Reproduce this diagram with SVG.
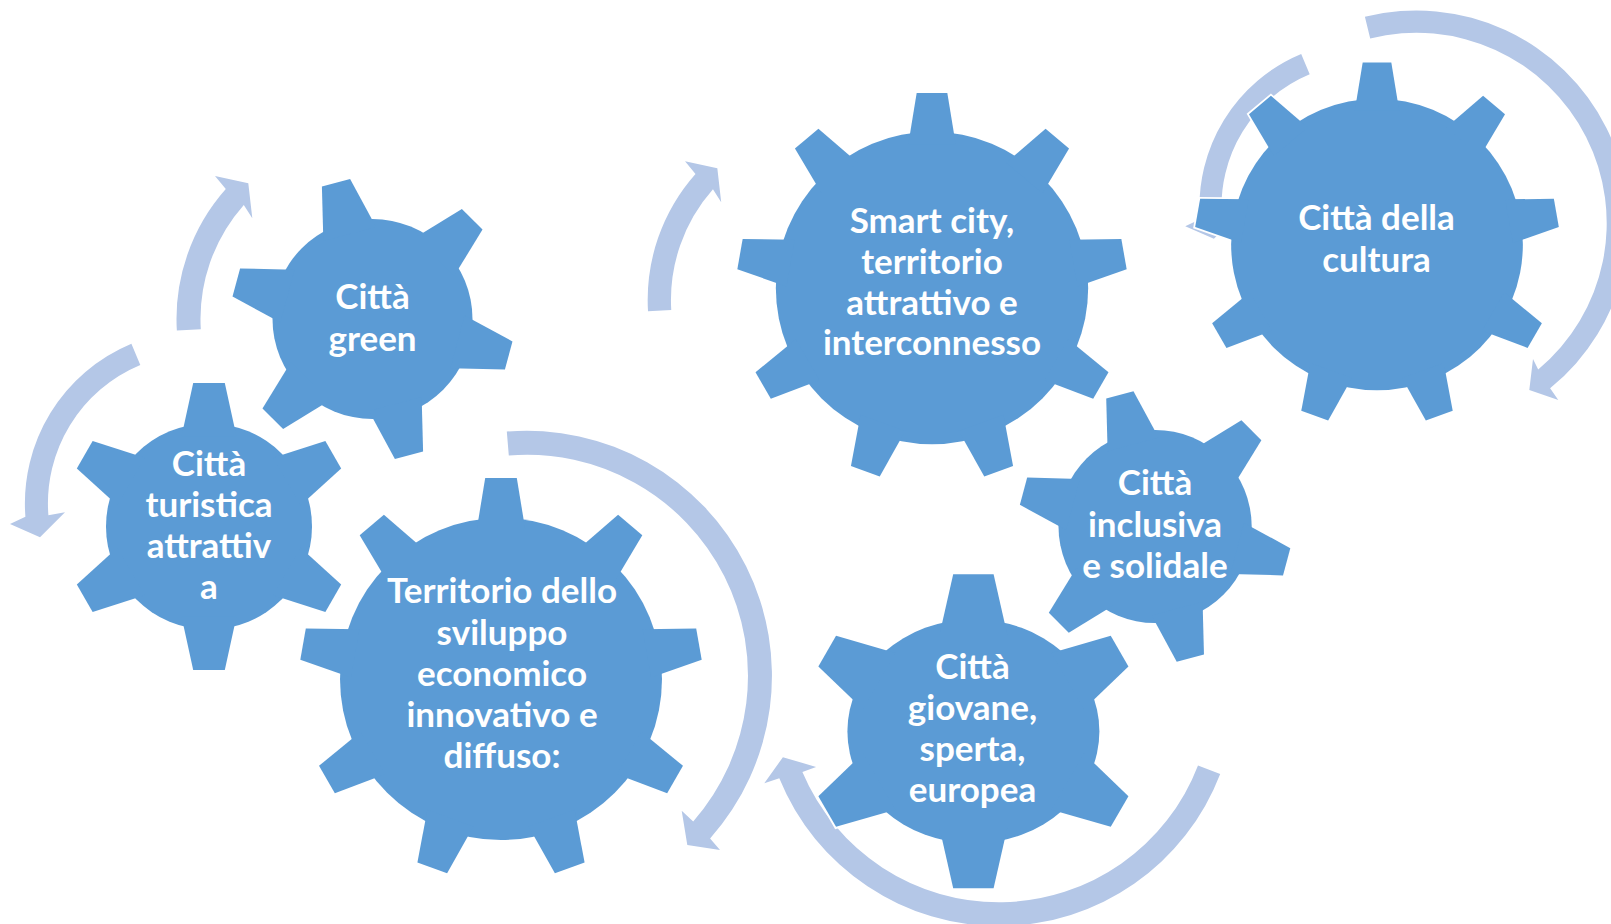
<svg xmlns="http://www.w3.org/2000/svg" xmlns:xlink="http://www.w3.org/1999/xlink" width="1611" height="924" viewBox="0 0 1611 924">
<style>
.arrow{fill:#B4C7E7}
.go{fill:#ffffff;stroke:#ffffff;stroke-width:4}
.gf{fill:#5B9BD5;stroke:none}
.lbl{font-family:Lato,"Liberation Sans",sans-serif;font-weight:bold;font-size:35px;fill:#ffffff;text-anchor:middle}
</style>
<defs>
  <polygon id="t1" points="-15.8,-143.5 15.8,-143.5 27.5,-90 -27.5,-90"/>
  <polygon id="t2" points="-14.6,-141 14.6,-141 27.3,-88 -27.3,-88"/>
  <polygon id="t3" points="-15.8,-201 15.8,-201 24.5,-148 -24.5,-148"/>
  <polygon id="t7v" points="-20.2,0 20.2,0 33.8,60 -33.8,60"/>
  <polygon id="t7s" points="-17.7,0 17.7,0 32.5,60 -32.5,60"/>
  <g id="gear1">
    <circle r="103"/>
    <use xlink:href="#t1"/>
    <use xlink:href="#t1" transform="rotate(60)"/>
    <use xlink:href="#t1" transform="rotate(120)"/>
    <use xlink:href="#t1" transform="rotate(180)"/>
    <use xlink:href="#t1" transform="rotate(240)"/>
    <use xlink:href="#t1" transform="rotate(300)"/>
  </g>
  <g id="gear2">
    <circle r="100"/>
    <use xlink:href="#t2" transform="rotate(-15)"/>
    <use xlink:href="#t2" transform="rotate(45)"/>
    <use xlink:href="#t2" transform="rotate(105)"/>
    <use xlink:href="#t2" transform="rotate(165)"/>
    <use xlink:href="#t2" transform="rotate(225)"/>
    <use xlink:href="#t2" transform="rotate(285)"/>
  </g>
  <g id="gear3">
    <circle r="161"/>
    <use xlink:href="#t3"/>
    <use xlink:href="#t3" transform="rotate(40)"/>
    <use xlink:href="#t3" transform="rotate(80)"/>
    <use xlink:href="#t3" transform="rotate(120)"/>
    <use xlink:href="#t3" transform="rotate(160)"/>
    <use xlink:href="#t3" transform="rotate(200)"/>
    <use xlink:href="#t3" transform="rotate(240)"/>
    <use xlink:href="#t3" transform="rotate(280)"/>
    <use xlink:href="#t3" transform="rotate(320)"/>
  </g>
  <g id="gear7">
    <ellipse rx="126" ry="112"/>
    <use xlink:href="#t7v" transform="translate(0,-157)"/>
    <use xlink:href="#t7s" transform="translate(146.2,-80.2) rotate(60)"/>
    <use xlink:href="#t7s" transform="translate(146.2,80.2) rotate(120)"/>
    <use xlink:href="#t7v" transform="translate(0,157) rotate(180)"/>
    <use xlink:href="#t7s" transform="translate(-146.2,80.2) rotate(240)"/>
    <use xlink:href="#t7s" transform="translate(-146.2,-80.2) rotate(300)"/>
  </g>
  <path id="arrA" d="M -195.65,11.62 A196,196 0 0,1 -146.7,-130 L -157.5,-143 L -124.2,-135.7 L -120.2,-100.7 L -128.7,-114.1 A172,172 0 0,0 -171.7,10.2 Z"/>
  <path id="arrB" d="M -66.5,-159.7 A173,173 0 0,0 -172.5,13.3 L -187.9,20.6 L -157.9,33.9 L -132.9,8.9 L -149.5,11.8 A150,150 0 0,1 -57.6,-138.5 Z"/>
</defs>
<rect width="1611" height="924" fill="#ffffff"/>
<g id="connectors">
  <use xlink:href="#arrA" class="arrow" transform="translate(372.5,319)"/>
  <use xlink:href="#arrA" class="arrow" transform="translate(837.8,300) scale(0.97)"/>
  <use xlink:href="#arrB" class="arrow" transform="translate(197.9,503.4)"/>
  <use xlink:href="#arrB" class="arrow" transform="translate(1364.7,206.5) scale(0.955)"/>
  <path class="arrow" transform="translate(526.9,675.8)" d="M -20.1,-244.2 A245,245 0 0,1 183.2,162.7 L 193.1,174.2 L 160.4,169.2 L 154.8,134.9 L 166.3,145.6 A221,221 0 0,0 -18.1,-220.3 Z"/>
  <path class="arrow" transform="translate(998.9,689)" d="M 221.3,84.9 A237,237 0 0,1 -219.6,89.2 L -234.6,94.2 L -216,68.2 L -182.8,77.9 L -196.5,83 A213.3,213.3 0 0,0 199.1,76.4 Z"/>
  <path class="arrow" transform="translate(1416.3,223.1)" d="M -51.4,-206.3 A212.6,212.6 0 0,1 133.8,165.2 L 142,176.9 L 113,166.9 L 116.7,135.9 L 121.9,146.3 A190.4,190.4 0 0,0 -46.1,-184.7 Z"/>
</g>
<g id="node-turistica">
  <g transform="translate(209,526.5)"><use xlink:href="#gear1" class="go"/><use xlink:href="#gear1" class="gf"/></g>
  <text class="lbl"><tspan x="209" y="476">Città</tspan><tspan x="209" y="517">turistica</tspan><tspan x="209" y="558">attrattiv</tspan><tspan x="209" y="599">a</tspan></text>
</g>
<g id="node-green">
  <g transform="translate(372.5,319)"><use xlink:href="#gear2" class="go"/><use xlink:href="#gear2" class="gf"/></g>
  <text class="lbl"><tspan x="372.5" y="308.5">Città</tspan><tspan x="372.5" y="350.5">green</tspan></text>
</g>
<g id="node-territorio">
  <g transform="translate(501,679)"><use xlink:href="#gear3" class="go"/><use xlink:href="#gear3" class="gf"/></g>
  <text class="lbl"><tspan x="502" y="603">Territorio dello</tspan><tspan x="502" y="645">sviluppo</tspan><tspan x="502" y="686">economico</tspan><tspan x="502" y="727">innovativo e</tspan><tspan x="502" y="768">diffuso:</tspan></text>
</g>
<g id="node-smartcity">
  <g transform="translate(932,288) scale(0.97)"><use xlink:href="#gear3" class="go"/><use xlink:href="#gear3" class="gf"/></g>
  <text class="lbl"><tspan x="932" y="233">Smart city,</tspan><tspan x="932" y="273.5">territorio</tspan><tspan x="932" y="314.5">attrattivo e</tspan><tspan x="932" y="355">interconnesso</tspan></text>
</g>
<g id="node-cultura">
  <g transform="translate(1377,244.5) scale(0.906)"><use xlink:href="#gear3" class="go"/><use xlink:href="#gear3" class="gf"/></g>
  <text class="lbl"><tspan x="1376.5" y="229.5">Città della</tspan><tspan x="1376.5" y="271.5">cultura</tspan></text>
</g>
<g id="node-inclusiva">
  <g transform="translate(1155.1,526.5) scale(0.966)"><use xlink:href="#gear2" class="go"/><use xlink:href="#gear2" class="gf"/></g>
  <text class="lbl"><tspan x="1155" y="495">Città</tspan><tspan x="1155" y="537">inclusiva</tspan><tspan x="1155" y="578">e solidale</tspan></text>
</g>
<g id="node-giovane">
  <g transform="translate(973.4,731.3)"><use xlink:href="#gear7" class="go"/><use xlink:href="#gear7" class="gf"/></g>
  <text class="lbl"><tspan x="972.5" y="678.5">Città</tspan><tspan x="972.5" y="719.5">giovane,</tspan><tspan x="972.5" y="761">sperta,</tspan><tspan x="972.5" y="802">europea</tspan></text>
</g>
</svg>
